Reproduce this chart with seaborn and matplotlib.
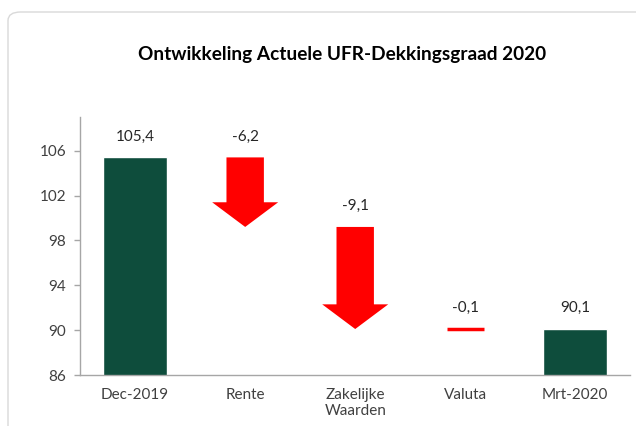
import numpy as np
import pandas as pd
import seaborn as sns
from matplotlib import pyplot as plt
from matplotlib.patches import Polygon, FancyBboxPatch

# data
categories = ["Dec-2019", "Rente", "Zakelijke\nWaarden", "Valuta", "Mrt-2020"]
changes = [105.4, -6.2, -9.1, -0.1, 90.1]
is_total = [True, False, False, False, True]

GREEN = "#0e4d3c"
RED = "#ff0000"
TEXT = "#404040"

sns.set_style("white")
plt.rcParams["font.family"] = ["Lato", "DejaVu Sans"]

# running level for each step
starts, ends = [], []
level = 0.0
for v, tot in zip(changes, is_total):
    if tot:
        starts.append(v)
        ends.append(v)
        level = v
    else:
        starts.append(level)
        level = level + v
        ends.append(level)

df = pd.DataFrame({"category": categories, "change": changes, "total": is_total})
totals = df[df["total"]]

fig = plt.figure(figsize=(6.36, 4.26), dpi=100)
ax = fig.add_axes([0.126, 0.1197, 0.865, 0.6056])

sns.barplot(data=totals, x="category", y="change", order=categories,
            color=GREEN, saturation=1, width=0.58, ax=ax)

# arrows for the changes
shaft_w = 0.34
head_w = 0.6
head_len = 2.2
for i, (s, e, tot) in enumerate(zip(starts, ends, is_total)):
    if tot:
        continue
    if abs(e - s) > head_len:
        neck = e + head_len
        pts = [(i - shaft_w / 2, s), (i + shaft_w / 2, s), (i + shaft_w / 2, neck),
               (i + head_w / 2, neck), (i, e), (i - head_w / 2, neck),
               (i - shaft_w / 2, neck)]
        ax.add_patch(Polygon(pts, closed=True, facecolor=RED, edgecolor="none"))
    else:
        ax.hlines(s, i - shaft_w / 2, i + shaft_w / 2, color=RED, linewidth=2.5)

# value labels
for i, (v, s, e) in enumerate(zip(changes, starts, ends)):
    top = max(s, e)
    ax.annotate(f"{v:.1f}".replace(".", ","), (i, top), xytext=(0, 15),
                textcoords="offset points", ha="center", va="center",
                fontsize=11, color="#262626")

ax.set_ylim(86, 109)
ax.set_xlim(-0.5, 4.5)
ax.set_yticks([86, 90, 94, 98, 102, 106])
ax.set_xlabel("")
ax.set_ylabel("")
ax.set_xticks(range(len(categories)))
ax.set_xticklabels(categories)

for side in ["top", "right"]:
    ax.spines[side].set_visible(False)
for side in ["left", "bottom"]:
    ax.spines[side].set_color("#a6a6a6")
    ax.spines[side].set_linewidth(1)
ax.tick_params(axis="y", length=4, width=1, color="#a6a6a6", pad=6,
               labelsize=11, labelcolor=TEXT, left=True)
ax.tick_params(axis="x", length=0, pad=9, labelsize=11, labelcolor=TEXT)

fig.text(0.538, 0.871, "Ontwikkeling Actuele UFR-Dekkingsgraad 2020",
         ha="center", va="center", fontsize=13.7, fontweight="bold", color="black")

# light rounded frame of the chart area
frame = FancyBboxPatch((8 / 636, -0.05), 1.05, 1 - 12 / 426 + 0.05,
                       boxstyle="round,pad=0,rounding_size=0.02",
                       transform=fig.transFigure, facecolor="none",
                       edgecolor="#d9d9d9", linewidth=1)
fig.patches.append(frame)

fig.savefig("out.png", dpi=100)
